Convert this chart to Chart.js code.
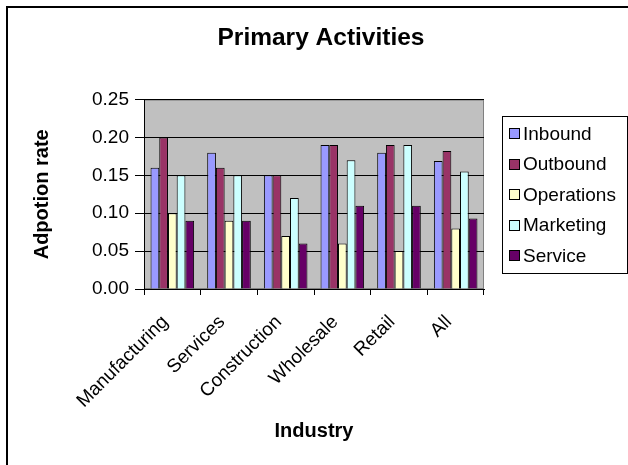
<!DOCTYPE html>
<html>
<head>
<meta charset="utf-8">
<script src="https://cdn.jsdelivr.net/npm/chart.js@4/dist/chart.umd.min.js"></script>
<style>
  html, body { margin: 0; padding: 0; background: #ffffff; }
  #wrap { width: 628px; height: 465px; }
</style>
</head>
<body>
<div id="wrap"><canvas id="c" width="628" height="465"></canvas></div>
<script>
// Industry categories and adoption rates per primary activity
const categories = ['Manufacturing', 'Services', 'Construction', 'Wholesale', 'Retail', 'All'];
const inbound    = [0.16, 0.18, 0.15, 0.19, 0.18, 0.169];
const outbound   = [0.20, 0.16, 0.15, 0.19, 0.19, 0.182];
const operations = [0.10, 0.09, 0.07, 0.06, 0.05, 0.080];
const marketing  = [0.15, 0.15, 0.12, 0.17, 0.19, 0.155];
const service    = [0.09, 0.09, 0.06, 0.11, 0.11, 0.093];
const seriesNames = ['Inbound', 'Outbound', 'Operations', 'Marketing', 'Service'];
const seriesColors = ['#9999FF', '#993366', '#FFFFCC', '#CCFFFF', '#660066'];
const yMin = 0, yMax = 0.25, yStep = 0.05;

const FONT = '"Liberation Sans", Arial, sans-serif';
const LEGEND_AREA_W = 144;

// Side legend, registered as a layout box so the title stays centred on the full width
function makeLegendBox(chart) {
  return {
    position: 'right', weight: 0, fullSize: false,
    options: {},
    left: 0, top: 0, right: 0, bottom: 0, width: 0, height: 0,
    isHorizontal() { return false; },
    update(maxWidth, maxHeight) { this.width = LEGEND_AREA_W; this.height = maxHeight; },
    draw() {
      const ctx = chart.ctx;
      const ds = chart.data.datasets;
      const boxL = this.left + 18, boxW = 125;
      const spacing = 30.5;
      const boxH = 157;
      const cy = (this.top + this.bottom) / 2;
      const boxT = cy - boxH / 2;
      ctx.save();
      ctx.strokeStyle = '#000';
      ctx.lineWidth = 1;
      ctx.strokeRect(Math.round(boxL) + 0.5, Math.round(boxT) + 0.5, boxW, boxH);
      ctx.font = '19px ' + FONT;
      ctx.textBaseline = 'middle';
      ctx.textAlign = 'left';
      ds.forEach((d, i) => {
        const y = cy + (i - (ds.length - 1) / 2) * spacing;
        const sx = Math.round(boxL + 7) + 0.5, sy = Math.round(y - 5) + 0.5;
        ctx.fillStyle = d.backgroundColor;
        ctx.fillRect(sx, sy, 10, 10);
        ctx.strokeStyle = '#000';
        ctx.strokeRect(sx, sy, 10, 10);
        ctx.fillStyle = '#000';
        ctx.fillText(d.label, boxL + 21, y + 1);
      });
      ctx.restore();
    }
  };
}

const sideLegend = {
  id: 'sideLegend',
  beforeInit(chart) { Chart.layouts.addBox(chart, makeLegendBox(chart)); }
};

// White page with frame, grey plot area
const backdrop = {
  id: 'backdrop',
  beforeDraw(chart) {
    const { ctx, chartArea: a } = chart;
    ctx.save();
    ctx.fillStyle = '#ffffff';
    ctx.fillRect(0, 0, chart.width, chart.height);
    ctx.strokeStyle = '#000';
    ctx.lineWidth = 2;
    ctx.strokeRect(7, 7, chart.width + 20, chart.height + 20);
    ctx.fillStyle = '#C0C0C0';
    ctx.fillRect(a.left, a.top, a.right - a.left, a.bottom - a.top);
    ctx.strokeStyle = '#808080';
    ctx.lineWidth = 1;
    ctx.strokeRect(a.left + 0.5, a.top + 0.5, a.right - a.left - 1, a.bottom - a.top - 1);
    ctx.restore();
  }
};

const series = [inbound, outbound, operations, marketing, service];

new Chart(document.getElementById('c'), {
  type: 'bar',
  data: {
    labels: categories,
    datasets: series.map((vals, i) => ({
      label: seriesNames[i],
      data: vals,
      backgroundColor: seriesColors[i],
      borderColor: '#000000',
      borderWidth: 1,
      categoryPercentage: 5 / 6.5,
      barPercentage: 1.0
    }))
  },
  options: {
    responsive: false,
    animation: false,
    devicePixelRatio: 1,
    layout: { padding: { left: 14, right: 0, top: 0, bottom: 21.5 } },
    plugins: {
      legend: { display: false },
      tooltip: { enabled: false },
      title: {
        display: true,
        text: 'Primary Activities',
        color: '#000',
        font: { family: FONT, size: 24.5, weight: 'bold' },
        padding: { top: 23.5, bottom: 46.7 }
      }
    },
    scales: {
      x: {
        grid: { display: true, drawOnChartArea: false, drawTicks: true, tickLength: 6, color: '#000', offset: true },
        border: { display: true, color: '#000', width: 1 },
        ticks: {
          color: '#000', font: { family: FONT, size: 19 },
          autoSkip: false, minRotation: 45, maxRotation: 45, padding: 16, labelOffset: -7
        },
        title: {
          display: true, text: 'Industry', color: '#000',
          font: { family: FONT, size: 20, weight: 'bold' }, padding: 0
        },
        afterFit(scale) { scale.height = 154.5; }
      },
      y: {
        min: yMin, max: yMax,
        grid: { color: '#000', drawTicks: true, tickLength: 9 },
        border: { display: true, color: '#000', width: 1 },
        ticks: {
          stepSize: yStep, color: '#000', padding: 6,
          font: { family: FONT, size: 19 },
          callback: (v) => Number(v).toFixed(2)
        },
        title: {
          display: true, text: 'Adpotion rate', color: '#000',
          font: { family: FONT, size: 20, weight: 'bold' }, padding: { top: 16, bottom: 0 }
        },
        afterFit(scale) { scale.width = 130; }
      }
    }
  },
  plugins: [sideLegend, backdrop]
});
</script>
</body>
</html>
